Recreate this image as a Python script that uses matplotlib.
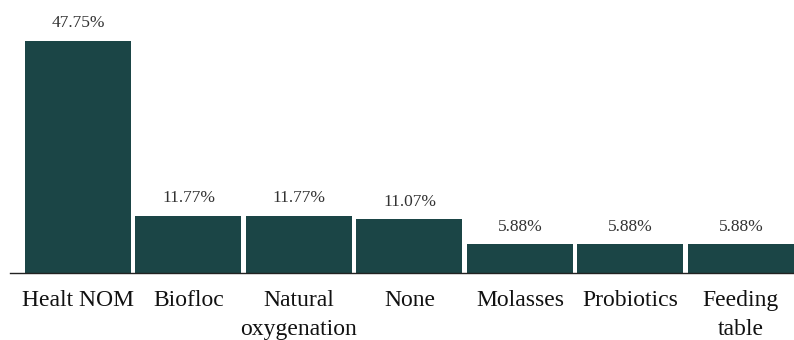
import matplotlib
matplotlib.use("Agg")
from matplotlib import pyplot as plt

categories = ["Healt NOM", "Biofloc", "Natural\noxygenation", "None",
              "Molasses", "Probiotics", "Feeding\ntable"]
shares = [47.75, 11.77, 11.77, 11.07, 5.88, 5.88, 5.88]
bar_labels = ["47.75%", "11.77%", "11.77%", "11.07%", "5.88%", "5.88%", "5.88%"]

BAR_COLOR = "#1b4546"

plt.rcParams["font.family"] = ["Liberation Serif", "DejaVu Serif"]

fig = plt.figure(figsize=(7.94, 3.40), dpi=100)
ax = fig.add_axes([10 / 794, 1 - 273 / 340, 784 / 794, 273 / 340])

x = list(range(len(categories)))
bars = ax.bar(x, shares, width=0.96, color=BAR_COLOR)

for rect, lab in zip(bars, bar_labels):
    ax.annotate(lab, (rect.get_x() + rect.get_width() / 2, rect.get_height()),
                xytext=(0, 7), textcoords="offset points",
                ha="center", va="bottom", fontsize=12.5, color="#333333")

ax.set_xlim(-0.615, 6.48)
ax.set_ylim(0, 56.2)
ax.set_xticks(x)
ax.set_xticklabels(categories, fontsize=17, color="#111111", linespacing=1.5)
ax.tick_params(axis="x", length=0, pad=12)
ax.set_yticks([])
for side in ["top", "right", "left"]:
    ax.spines[side].set_visible(False)
ax.spines["bottom"].set_color("#222222")
ax.spines["bottom"].set_linewidth(1.0)

fig.savefig("out.png", dpi=100)
